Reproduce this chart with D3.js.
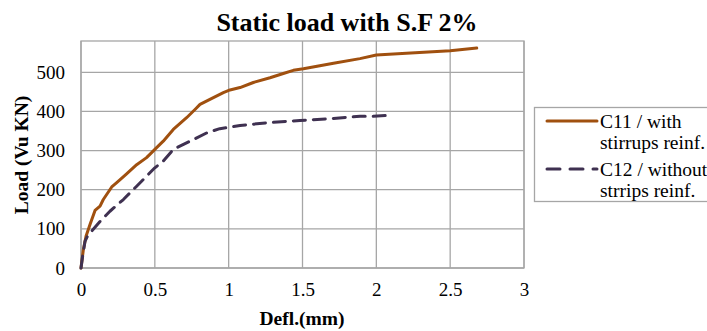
<!DOCTYPE html>
<html>
<head>
<meta charset="utf-8">
<script src="https://cdn.jsdelivr.net/npm/d3@7"></script>
<style>
  body { margin: 0; background: #fff; }
  svg text { font-family: "Liberation Serif", "Times New Roman", serif; }
</style>
</head>
<body>
<div id="chart"></div>
<script>
// C11 / with stirrups reinf.
const c11Defl = [0, 0.016, 0.034, 0.061, 0.095, 0.129, 0.151, 0.208, 0.242, 0.305, 0.377, 0.444, 0.5, 0.557, 0.625, 0.715, 0.772, 0.806, 0.873, 0.964, 1.009, 1.077, 1.167, 1.28, 1.37, 1.438, 1.506, 1.71, 1.889, 2.0, 2.204, 2.5, 2.68];
const c11Load = [0, 47, 81, 111, 147, 158, 175, 207, 218, 239, 264, 282, 303, 324, 354, 384, 405, 418, 431, 448, 455, 461, 474, 486, 497, 505, 509, 523, 535, 544, 549, 555, 562];
// C12 / without strrips reinf.
const c12Defl = [0, 0.011, 0.027, 0.043, 0.072, 0.129, 0.196, 0.287, 0.377, 0.445, 0.5, 0.557, 0.625, 0.76, 0.85, 0.94, 1.077, 1.257, 1.483, 1.71, 1.89, 1.98, 2.09];
const c12Load = [0, 30, 68, 81, 94, 119, 145, 175, 209, 235, 256, 273, 303, 328, 345, 356, 364, 371, 377, 382, 388, 388, 390];
const xTicks = [0, 0.5, 1, 1.5, 2, 2.5, 3];
const yTicks = [0, 100, 200, 300, 400, 500];
const seriesNames = [["C11 / with", "stirrups reinf."], ["C12 / without", "strrips reinf."]];

const W = 707, H = 331;
const margin = {top: 41, right: 183, bottom: 63, left: 81};
const width = W - margin.left - margin.right,
      height = H - margin.top - margin.bottom;
const serif = '"Liberation Serif", "Times New Roman", serif';

const svg = d3.select("#chart").append("svg")
  .attr("width", W).attr("height", H);

const g = svg.append("g")
  .attr("transform", `translate(${margin.left},${margin.top})`);

const x = d3.scaleLinear().domain([0, 3]).range([0, width]);
const y = d3.scaleLinear().domain([0, 580]).range([height, 0]);

// grid
g.selectAll(".vgrid").data(xTicks).enter().append("line")
  .attr("x1", d => x(d)).attr("x2", d => x(d))
  .attr("y1", 0).attr("y2", height)
  .attr("stroke", "#a6a6a6").attr("stroke-width", 1.3);
g.selectAll(".hgrid").data(yTicks).enter().append("line")
  .attr("x1", 0).attr("x2", width)
  .attr("y1", d => y(d)).attr("y2", d => y(d))
  .attr("stroke", "#a6a6a6").attr("stroke-width", 1.3);
g.append("rect").attr("width", width).attr("height", height)
  .attr("fill", "none").attr("stroke", "#a6a6a6").attr("stroke-width", 1.3);

// axes (labels only)
const xAxis = g.append("g")
  .attr("transform", `translate(0,${height})`)
  .call(d3.axisBottom(x).tickValues(xTicks).tickSize(0).tickPadding(15).tickFormat(d3.format("")));
const yAxis = g.append("g")
  .call(d3.axisLeft(y).tickValues(yTicks).tickSize(0).tickPadding(16));
[xAxis, yAxis].forEach(a => {
  a.attr("font-family", null).attr("font-size", null);
  a.select(".domain").remove();
  a.selectAll("text").style("font-size", "19px")
    .style("font-family", serif).attr("fill", "#000");
});

// lines
const line = d3.line().x(d => x(d[0])).y(d => y(d[1]));
const c11 = c11Defl.map((d, i) => [d, c11Load[i]]);
const c12 = c12Defl.map((d, i) => [d, c12Load[i]]);

g.append("path").datum(c11)
  .attr("d", line).attr("fill", "none")
  .attr("stroke", "#a0500f").attr("stroke-width", 3)
  .attr("stroke-linecap", "round").attr("stroke-linejoin", "round");
g.append("path").datum(c12)
  .attr("d", line).attr("fill", "none")
  .attr("stroke", "#3f3151").attr("stroke-width", 3)
  .attr("stroke-dasharray", "12,8")
  .attr("stroke-linecap", "round").attr("stroke-linejoin", "round");

// title
svg.append("text").attr("x", 347).attr("y", 31)
  .attr("text-anchor", "middle").style("font-size", "26px").attr("font-weight", "bold")
  .style("font-family", serif)
  .text("Static load with S.F 2%");

// axis titles
svg.append("text").attr("x", 302).attr("y", 325)
  .attr("text-anchor", "middle").style("font-size", "19.5px").attr("font-weight", "bold")
  .style("font-family", serif)
  .text("Defl.(mm)");
svg.append("text")
  .attr("transform", `translate(28,155) rotate(-90)`)
  .attr("text-anchor", "middle").style("font-size", "19.5px").attr("font-weight", "bold")
  .style("font-family", serif)
  .text("Load (Vu KN)");

// legend
const leg = svg.append("g");
leg.append("rect").attr("x", 534.5).attr("y", 107.5).attr("width", 180).attr("height", 94)
  .attr("fill", "#fff").attr("stroke", "#a6a6a6").attr("stroke-width", 1.3);
const legY = [121, 169];
const legStyle = [{c: "#a0500f", dash: null}, {c: "#3f3151", dash: "13,10"}];
seriesNames.forEach((names, i) => {
  leg.append("line").attr("x1", 547).attr("x2", 597)
    .attr("y1", legY[i]).attr("y2", legY[i])
    .attr("stroke", legStyle[i].c).attr("stroke-width", 3)
    .attr("stroke-dasharray", legStyle[i].dash)
    .attr("stroke-linecap", "round");
  names.forEach((t, j) => {
    leg.append("text").attr("x", 600).attr("y", legY[i] + 7 + j * 21)
      .style("font-size", "19.5px").style("font-family", serif).text(t);
  });
});
</script>
</body>
</html>
